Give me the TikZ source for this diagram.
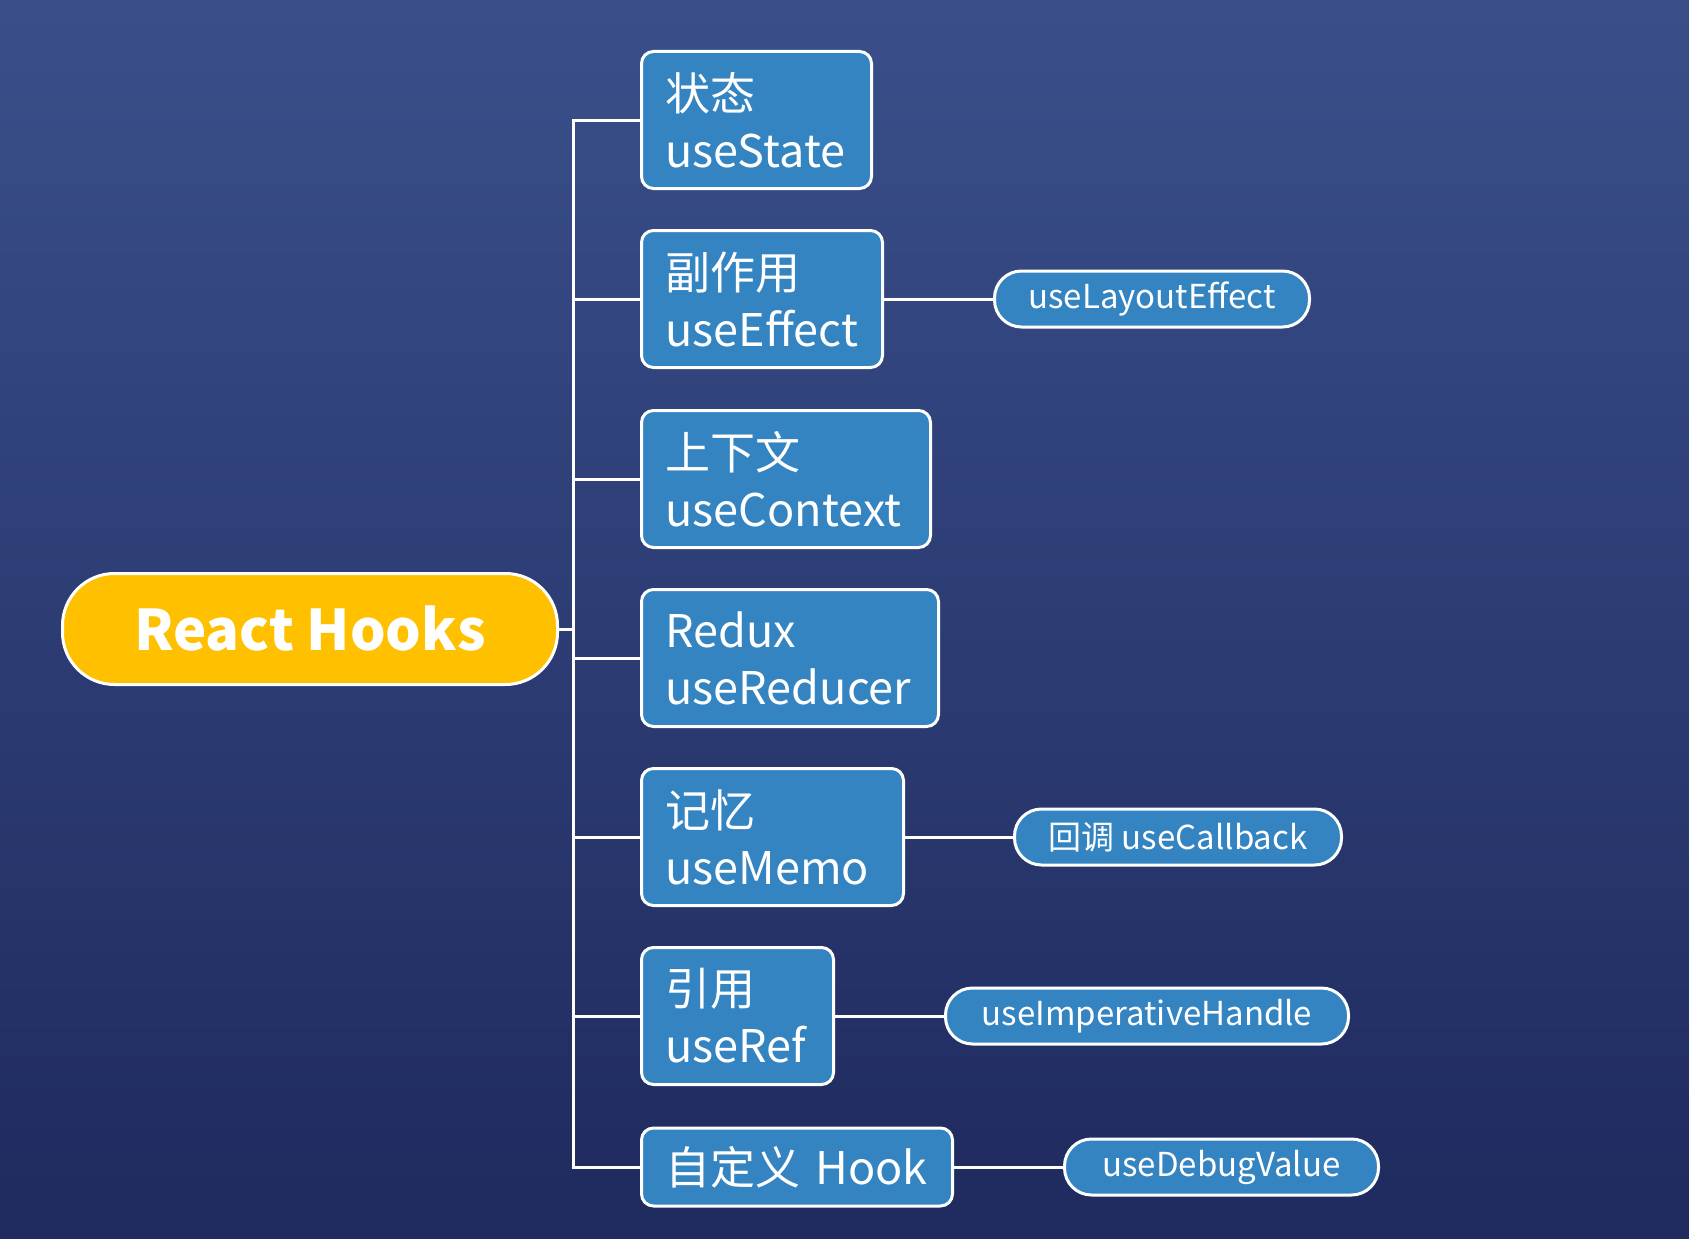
\documentclass[tikz,border=0pt]{standalone}
\usepackage{fontspec}
\setmainfont{Noto Sans CJK SC}
\definecolor{bgtop}{RGB}{58,79,138}
\definecolor{bgbot}{RGB}{31,42,94}
\definecolor{hookblue}{RGB}{53,132,194}
\definecolor{rootgold}{RGB}{255,192,0}
\begin{document}
\begin{tikzpicture}[x=1pt,y=-1pt]
		\tikzstyle{root}=[draw=white,line width=3pt,fill=rootgold,rounded corners=52pt,minimum width=495pt,minimum height=111pt,text=white,font=\fontsize{56}{66}\selectfont\bfseries]
		\tikzstyle{hook}=[draw=white,line width=3pt,fill=hookblue,rounded corners=12pt,anchor=west,minimum height=137pt,inner xsep=24pt,align=left,text=white,font=\fontsize{45}{57}\selectfont]
		\tikzstyle{extra}=[draw=white,line width=3pt,fill=hookblue,rounded corners=27pt,anchor=west,minimum height=56pt,text=white,font=\fontsize{33}{40}\selectfont]
		\tikzstyle{link}=[draw=white,line width=3pt]

		\shade[top color=bgtop,bottom color=bgbot] (0,0) rectangle (1689,1239);

		\node[root](hooks) at (310,629){React Hooks};

		\node[hook,text width=182pt](state) at (640,120){状态\\useState};
		\node[hook,text width=193pt](effect) at (640,299){副作用\\useEffect};
		\node[hook,text width=241pt](context) at (640,479){上下文\\useContext};
		\node[hook,text width=249pt](reducer) at (640,658){Redux\\useReducer};
		\node[hook,text width=214pt](memo) at (640,837){记忆\\useMemo};
		\node[hook,text width=144pt](ref) at (640,1016){引用\\useRef};
		\node[hook,text width=263pt,minimum height=78pt](custom) at (640,1167){自定义 Hook};

		\node[extra,minimum width=315pt](layout) at (993,299){useLayoutEffect};
		\node[extra,minimum width=327pt](callback) at (1013,837){回调 useCallback};
		\node[extra,minimum width=403pt](imperative) at (944,1016){useImperativeHandle};
		\node[extra,minimum width=314pt](debug) at (1063,1167){useDebugValue};

		\draw[link] (hooks.east) -- ++(14,0) coordinate(trunk);
		\draw[link] (trunk) |- (state.west);
		\draw[link] (trunk) |- (effect.west);
		\draw[link] (trunk) |- (context.west);
		\draw[link] (trunk) |- (reducer.west);
		\draw[link] (trunk) |- (memo.west);
		\draw[link] (trunk) |- (ref.west);
		\draw[link] (trunk) |- (custom.west);

		\draw[link] (effect.east) -- (layout.west);
		\draw[link] (memo.east) -- (callback.west);
		\draw[link] (ref.east) -- (imperative.west);
		\draw[link] (custom.east) -- (debug.west);
	\end{tikzpicture}
\end{document}
